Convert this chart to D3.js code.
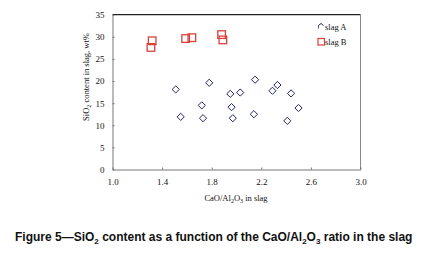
<!DOCTYPE html>
<html>
<head>
<meta charset="utf-8">
<script src="https://cdn.jsdelivr.net/npm/d3@7"></script>
<style>
  html, body { margin: 0; padding: 0; background: #fff; }
  svg { display: block; }
</style>
</head>
<body>
<svg id="chart" width="428" height="255"></svg>
<script>
// slag A (diamonds): CaO/Al2O3 ratio, SiO2 wt%
const slagAx = [1.51, 1.78, 1.95, 2.03, 2.15, 2.29, 2.33, 2.44, 1.55, 1.72, 1.73, 1.96, 1.97, 2.14, 2.41, 2.50];
const slagAy = [18.1, 19.6, 17.1, 17.4, 20.3, 17.8, 19.1, 17.2, 11.9, 14.5, 11.6, 14.1, 11.6, 12.5, 11.0, 13.9];
// slag B (squares)
const slagBx = [1.31, 1.32, 1.59, 1.64, 1.88, 1.89];
const slagBy = [27.6, 29.1, 29.6, 29.8, 30.5, 29.3];

const xTicks = [1.0, 1.4, 1.8, 2.2, 2.6, 3.0];
const yTicks = [0, 5, 10, 15, 20, 25, 30, 35];
const legendLabels = ["slag A", "slag B"];

const svg = d3.select("#chart");

const plotL = 112.5, plotR = 360.5, plotT = 14.7, plotB = 169.5;
const serif = "'Liberation Serif', 'Times New Roman', serif";

const x = d3.scaleLinear().domain([1, 3]).range([plotL, plotR]);
const y = d3.scaleLinear().domain([0, 35]).range([plotB, plotT]);

// plot frame (top + right)
svg.append("line")
    .attr("x1", plotL).attr("x2", plotR).attr("y1", plotT).attr("y2", plotT)
    .attr("stroke", "#222").attr("stroke-width", 1.2);
svg.append("line")
    .attr("x1", plotR).attr("x2", plotR).attr("y1", plotT).attr("y2", plotB)
    .attr("stroke", "#888").attr("stroke-width", 1);

// x axis
svg.append("g")
    .attr("transform", `translate(0,${plotB})`)
    .call(d3.axisBottom(x).tickValues(xTicks).tickFormat(d3.format(".1f")).tickSizeInner(-2).tickSizeOuter(0).tickPadding(9))
    .call(g => g.select(".domain").attr("stroke", "#777"))
    .call(g => g.selectAll(".tick line").attr("stroke", "#777"))
    .call(g => g.selectAll("text").attr("font-family", serif).attr("font-size", 9).attr("fill", "#111"));

// y axis
svg.append("g")
    .attr("transform", `translate(${plotL},0)`)
    .call(d3.axisLeft(y).tickValues(yTicks).tickSizeInner(-2).tickSizeOuter(0).tickPadding(8))
    .call(g => g.select(".domain").attr("stroke", "#777"))
    .call(g => g.selectAll(".tick line").attr("stroke", "#777"))
    .call(g => g.selectAll("text").attr("font-family", serif).attr("font-size", 9).attr("fill", "#111"));

// axis titles
const xt = svg.append("text")
    .attr("x", 236).attr("y", 201)
    .attr("text-anchor", "middle")
    .attr("font-family", serif).attr("font-size", 8.5).attr("fill", "#111");
xt.append("tspan").text("CaO/Al");
xt.append("tspan").attr("font-size", 6).attr("dy", 2).text("2");
xt.append("tspan").attr("dy", -2).text("O");
xt.append("tspan").attr("font-size", 6).attr("dy", 2).text("3");
xt.append("tspan").attr("dy", -2).text(" in  slag");

const yt = svg.append("text")
    .attr("transform", "translate(89,77) rotate(-90)")
    .attr("text-anchor", "middle")
    .attr("font-family", serif).attr("font-size", 8.5).attr("fill", "#111");
yt.append("tspan").text("SiO");
yt.append("tspan").attr("font-size", 6).attr("dy", 2).text("2");
yt.append("tspan").attr("dy", -2).text(" content in slag,  wt%");

// slag A diamonds
const diamond = "M0,-3.6L3.6,0L0,3.6L-3.6,0Z";
svg.append("g")
    .selectAll("path")
    .data(slagAx.map((v, i) => [v, slagAy[i]]))
    .join("path")
    .attr("d", diamond)
    .attr("transform", d => `translate(${x(d[0])},${y(d[1])})`)
    .attr("fill", "none").attr("stroke", "#23236e").attr("stroke-width", 1);

// slag B squares
svg.append("g")
    .selectAll("rect")
    .data(slagBx.map((v, i) => [v, slagBy[i]]))
    .join("rect")
    .attr("x", d => x(d[0]) - 3.8).attr("y", d => y(d[1]) - 3.8)
    .attr("width", 7.6).attr("height", 7.6)
    .attr("fill", "none").attr("stroke", "#d9403a").attr("stroke-width", 1.3);

// legend
const lg = svg.append("g").attr("transform", "translate(321,27)");
lg.append("path")
    .attr("d", "M-2.5,-1.5L0,-3.5L2.5,-1.5")
    .attr("fill", "none").attr("stroke", "#23236e").attr("stroke-width", 1);
lg.append("path")
    .attr("d", "M-2.5,-1.5L-2.5,1.5")
    .attr("fill", "none").attr("stroke", "#23236e").attr("stroke-width", 0.8);
lg.append("rect")
    .attr("x", -3).attr("y", 11.5).attr("width", 6.5).attr("height", 6.5)
    .attr("fill", "none").attr("stroke", "#d9403a").attr("stroke-width", 1.2);
lg.selectAll("text")
    .data(legendLabels)
    .join("text")
    .attr("x", 4).attr("y", (d, i) => 3 + i * 15)
    .attr("font-family", serif).attr("font-size", 8.5).attr("fill", "#111")
    .text(d => d);

// caption
const cap = svg.append("text")
    .attr("x", 15).attr("y", 241)
    .attr("font-family", "'Liberation Sans', Arial, sans-serif")
    .attr("font-weight", "bold").attr("font-size", 12).attr("fill", "#111");
cap.append("tspan").text("Figure 5\u2014SiO");
cap.append("tspan").attr("font-size", 8).attr("dy", 3).text("2");
cap.append("tspan").attr("dy", -3).text(" content as a function of the CaO/Al");
cap.append("tspan").attr("font-size", 8).attr("dy", 3).text("2");
cap.append("tspan").attr("dy", -3).text("O");
cap.append("tspan").attr("font-size", 8).attr("dy", 3).text("3");
cap.append("tspan").attr("dy", -3).text(" ratio in the slag");
</script>
</body>
</html>
